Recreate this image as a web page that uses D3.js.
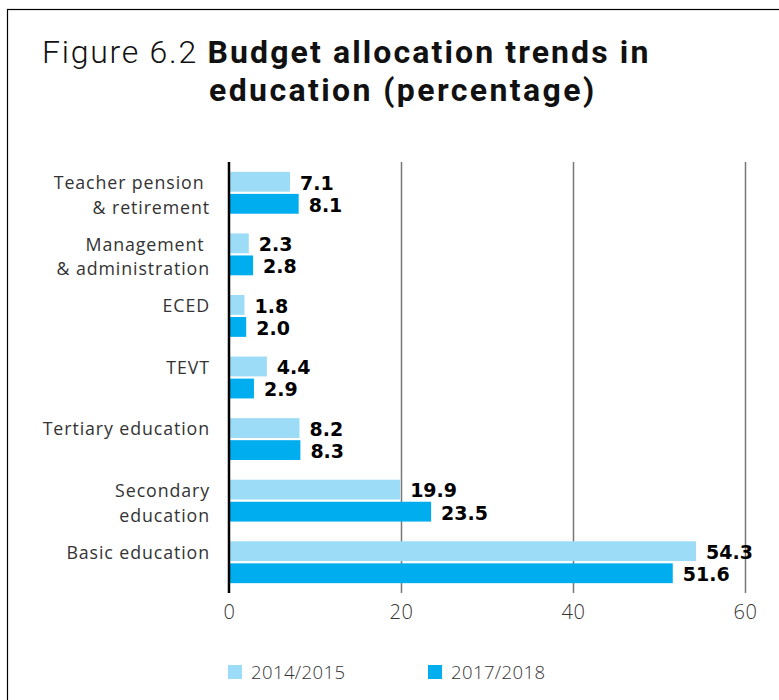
<!DOCTYPE html>
<html><head><meta charset="utf-8">
<script src="https://cdn.jsdelivr.net/npm/d3@7"></script>
<style>
html,body{margin:0;padding:0;background:#fff;}
svg{display:block;}
text{white-space:pre;}
</style></head>
<body>
<svg id="chart" width="779" height="700"></svg>
<script>
const categories = [
  ["Teacher pension ", "& retirement"],
  ["Management ", "& administration"],
  ["ECED"],
  ["TEVT"],
  ["Tertiary education"],
  ["Secondary", "education"],
  ["Basic education"]
];
const seriesNames = ["2014/2015", "2017/2018"];
const values2014 = [7.1, 2.3, 1.8, 4.4, 8.2, 19.9, 54.3];
const values2017 = [8.1, 2.8, 2.0, 2.9, 8.3, 23.5, 51.6];
const xTicks = [0, 20, 40, 60];
const colors = ["#9ddcf6", "#00aeef"];

const svg = d3.select("#chart");
const FONT = "'Open Sans', sans-serif";
const TFONT = "Roboto, 'Open Sans', sans-serif";
const VFONT = "'DejaVu Sans', sans-serif";

// frame
svg.append("rect").attr("x", 7.5).attr("y", 9.5).attr("width", 900).attr("height", 900)
  .attr("fill", "none").attr("stroke", "#000").attr("stroke-width", 1.2);

// title
const t1 = svg.append("text").attr("x", 42).attr("y", 63).attr("font-family", TFONT)
  .attr("font-size", 32).attr("fill", "#111");
t1.append("tspan").attr("font-weight", 300).attr("letter-spacing", 1.75).text("Figure 6.2 ");
t1.append("tspan").attr("font-weight", 700).attr("letter-spacing", 2.1).text("Budget allocation trends in");
svg.append("text").attr("x", 209).attr("y", 101).attr("font-family", TFONT)
  .attr("font-size", 32).attr("font-weight", 700).attr("letter-spacing", 2.4).attr("fill", "#111")
  .text("education (percentage)");

const x = d3.scaleLinear().domain([0, 60]).range([229, 745]);
const idx = d3.range(categories.length);
const y = d3.scaleBand().domain(idx).range([162, 593]).paddingInner(0.32).paddingOuter(0.16);
const ys = d3.scaleBand().domain([0, 1]).range([0, y.bandwidth()]).paddingInner(0.1).paddingOuter(0);

// grid lines
const gx = svg.append("g").attr("transform", "translate(0,593)")
  .call(d3.axisBottom(x).tickValues(xTicks).tickSize(-(593 - 162)).tickPadding(12).tickFormat(d3.format("d")));
gx.select(".domain").remove();
gx.selectAll(".tick line").attr("stroke", "#777").attr("stroke-width", 1.5)
  .filter(d => d === 0).attr("stroke", "none");
gx.selectAll(".tick text").attr("font-family", FONT).attr("font-weight", 300)
  .attr("font-size", 20).attr("letter-spacing", 0.5).attr("fill", "#333").attr("dy", "0.71em");

const data = [values2014, values2017];
const g = svg.append("g");
data.forEach((vals, s) => {
  g.selectAll(null).data(idx).enter().append("rect")
    .attr("x", x(0) + 1)
    .attr("y", i => y(i) + ys(s))
    .attr("width", i => x(vals[i]) - x(0) - 1)
    .attr("height", ys.bandwidth())
    .attr("fill", colors[s]);
  g.selectAll(null).data(idx).enter().append("text")
    .attr("x", i => x(vals[i]) + 10)
    .attr("y", i => y(i) + ys(s) + ys.bandwidth() / 2 + 1)
    .attr("dy", "0.36em")
    .attr("font-family", VFONT).attr("font-weight", 700).attr("font-size", 19)
    .attr("fill", "#000")
    .text(i => vals[i].toFixed(1));
});

// zero axis line
svg.append("line").attr("x1", x(0)).attr("x2", x(0)).attr("y1", 162).attr("y2", 593)
  .attr("stroke", "#000").attr("stroke-width", 2.5);

// category labels
idx.forEach(i => {
  categories[i].forEach((line, k) => {
    svg.append("text")
      .attr("x", 210)
      .attr("y", y(i) + ys(0) + ys.bandwidth() / 2 + 1 + k * 24.5)
      .attr("dy", "0.36em")
      .attr("text-anchor", "end")
      .attr("font-family", FONT).attr("font-weight", 400).attr("font-size", 17.8)
      .attr("letter-spacing", 0.9).attr("fill", "#333")
      .text(line);
  });
});

// legend
const legendX = [228, 428];
seriesNames.forEach((name, s) => {
  svg.append("rect").attr("x", legendX[s]).attr("y", 665).attr("width", 14).attr("height", 14)
    .attr("fill", colors[s]);
  svg.append("text").attr("x", legendX[s] + 23).attr("y", 672).attr("dy", "0.36em")
    .attr("font-family", FONT).attr("font-weight", 300).attr("font-size", 18.5)
    .attr("letter-spacing", 0.4).attr("fill", "#333")
    .text(name);
});
</script>
</body></html>
